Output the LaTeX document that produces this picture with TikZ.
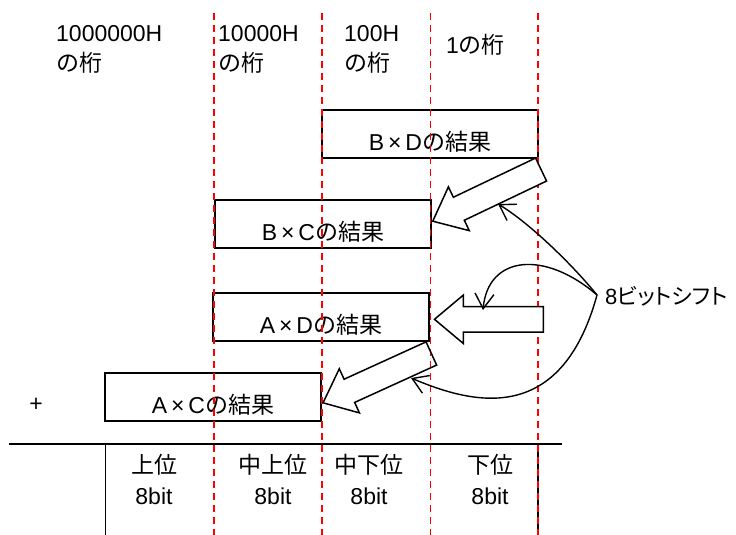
\documentclass[tikz,border=0pt]{standalone}
\usepackage{fontspec}
\setmainfont{Liberation Sans}
\newfontfamily\jp{Noto Sans CJK JP}
\newfontfamily\jpp[RawFeature=+palt]{Noto Sans CJK JP}
\usetikzlibrary{shapes.arrows,arrows.meta}

\begin{document}
\begin{tikzpicture}[x=1pt, y=-1pt, font=\fontsize{23}{29}\selectfont]
		\useasboundingbox (0,0) rectangle (736,535);
		% place values
		\begin{scope}[every node/.style={anchor=base west, inner sep=0pt, align=left}]
			\node (p6) at (56,71) {1000000H\\[1pt]{\jp の桁}};
			\node (p4) at (218,71) {10000H\\[1pt]{\jp の桁}};
			\node (p2) at (344,71) {100H\\[1pt]{\jp の桁}};
			\node (p0) at (446,53) {1{\jp の桁}};
		\end{scope}
		% partial products
		\begin{scope}[every node/.style={draw, line width=1.5pt, minimum width=216pt, minimum height=48pt, inner sep=0pt, text height=32pt, text depth=0pt}]
			\node (bd) at (430,134) {B\,×\,D{\jp の結果}};
			\node (bc) at (323,224) {B\,×\,C{\jp の結果}};
			\node (ad) at (321,317) {A\,×\,D{\jp の結果}};
			\node (ac) at (213,397) {A\,×\,C{\jp の結果}};
		\end{scope}
		\node (plus) at (36,405) {+};
		% sum line
		\draw[line width=1.5pt] (9,444) -- (562,444);
		\draw[line width=1.5pt] (105.7,444) -- (105.7,535);
		\draw[line width=1.5pt] (538,444) -- (538,535);
		\begin{scope}[every node/.style={anchor=base, inner sep=0pt, align=center}]
			\node (hi) at (154,504) {{\jp 上位}\\[2pt]8bit};
			\node (mh) at (273,504) {{\jp 中上位}\\[2pt]8bit};
			\node (ml) at (369,504) {{\jp 中下位}\\[2pt]8bit};
			\node (lo) at (490,504) {{\jp 下位}\\[2pt]8bit};
		\end{scope}
		% digit borders
		\draw[red, line width=1.3pt, dash pattern=on 7pt off 5pt]
			(214,13) -- (214,535) (322,13) -- (322,535)
			(430.5,13) -- (430.5,535) (538,13) -- (538,535);
		% shifts
		\begin{scope}[every node/.style={single arrow, draw, fill=white, line width=1.5pt, inner xsep=0pt, inner ysep=12pt, single arrow head extend=11.5pt, single arrow tip angle=80, anchor=tip}]
			\node[minimum height=120pt, rotate=205.5] (sh1) at (431.7,221.7) {};
			\node[minimum height=109pt, rotate=180] (sh2) at (433.3,319.3) {};
			\node[minimum height=119pt, rotate=204.5, fill=none] (sh3) at (322,403.3) {};
		\end{scope}
		\node[anchor=west, inner sep=0pt, font=\fontsize{22}{26}\selectfont] (sft) at (605,296) {8{\jpp ビットシフト}};
		\coordinate (src) at (597,295);
		\coordinate (t1) at (498,204);
		\coordinate (t2) at (483,310);
		\coordinate (t3) at (411,378);
		\begin{scope}[every path/.style={line width=1.4pt, -{Straight Barb[length=15pt, width=19pt]}}]
			\draw (src) .. controls (570,262) and (528,222) .. (t1);
			\draw (src) .. controls (545,250) and (488,255) .. (t2);
			\draw (src) .. controls (560,430) and (468,402) .. (t3);
		\end{scope}
	\end{tikzpicture}
\end{document}
